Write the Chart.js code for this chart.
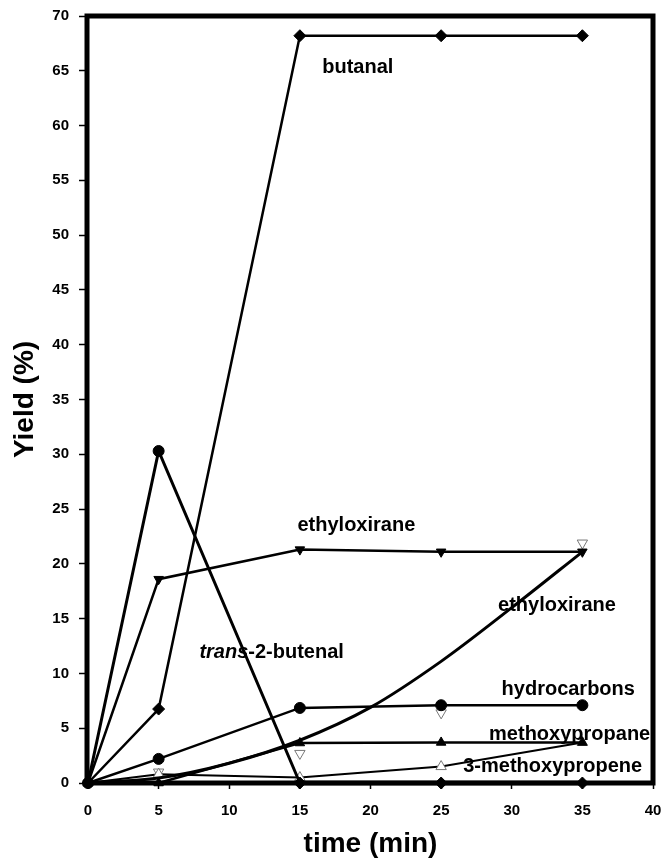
<!DOCTYPE html>
<html>
<head>
<meta charset="utf-8">
<script src="https://cdn.jsdelivr.net/npm/chart.js@4.4.1/dist/chart.umd.min.js"></script>
<style>
html,body{margin:0;padding:0;background:#fff;}
#wrap{width:664px;height:860px;}
</style>
</head>
<body>
<div id="wrap"><canvas id="c" width="664" height="860"></canvas></div>
<script>
// time points (min)
const times = [0, 5, 15, 25, 35];
const butanal = [0, 6.75, 68.2, 68.2, 68.2];
const butenal = [0, 30.3, 0, 0, 0];
const ethyloxiraneA = [0, 18.6, 21.3, 21.1, 21.1];
const ethyloxiraneBTimes = [5, 15, 25, 35];
const ethyloxiraneB = [1.0, 2.7, 6.4, 21.9];
const fitTimes = [0, 5, 10, 15, 20, 25, 30, 35];
const fitValues = [0, 0.45, 1.8, 3.9, 6.9, 11.1, 16.0, 21.1];
const hydrocarbons = [0, 2.2, 6.85, 7.1, 7.1];
const methoxypropane = [0, 0, 3.65, 3.7, 3.7];
const methoxypropene = [0, 0.8, 0.5, 1.5, 3.7];

const xTicks = [0, 5, 10, 15, 20, 25, 30, 35, 40];
const yTicks = [0, 5, 10, 15, 20, 25, 30, 35, 40, 45, 50, 55, 60, 65, 70];

// text labels: [text, x, y]
const labelTexts = ['butanal', 'ethyloxirane', 'ethyloxirane', 'hydrocarbons', 'methoxypropane', '3-methoxypropene'];
const labelX = [19.1, 19.0, 33.2, 34.0, 34.1, 32.9];
const labelY = [65.3, 23.5, 16.2, 8.5, 4.4, 1.55];
const butenalLabelPos = [13.0, 11.9];

const pts = (xs, ys) => xs.map((x, i) => ({x: x, y: ys[i]}));
const FONT = "'Liberation Sans', Arial, Helvetica, sans-serif";

const base = {
  borderColor: '#000', backgroundColor: '#000', pointBorderColor: '#000',
  pointBackgroundColor: '#000', borderWidth: 2.5, tension: 0, clip: false,
  pointBorderWidth: 1
};

const data = {
  datasets: [
    Object.assign({}, base, {label: 'butanal', data: pts(times, butanal), pointStyle: 'rectRot', pointRadius: 6}),
    Object.assign({}, base, {label: 'trans-2-butenal', data: pts(times, butenal),
      pointStyle: ['rectRot', 'circle', 'rectRot', 'rectRot', 'rectRot'],
      pointRadius: [6, 5.5, 6, 6, 6], borderWidth: 3,
      segment: {borderWidth: ctx => ctx.p0DataIndex >= 2 ? 4.5 : 3}}),
    Object.assign({}, base, {label: 'ethyloxirane', data: pts(times, ethyloxiraneA), pointStyle: 'triangle', rotation: 180, pointRadius: 5.5}),
    Object.assign({}, base, {label: 'ethyloxirane fit', data: pts(fitTimes, fitValues), pointRadius: 0, borderWidth: 3, cubicInterpolationMode: 'monotone'}),
    Object.assign({}, base, {label: 'hydrocarbons', data: pts(times, hydrocarbons), pointStyle: 'circle', pointRadius: 5.5}),
    Object.assign({}, base, {label: 'methoxypropane', data: pts(times, methoxypropane), pointStyle: 'triangle', pointRadius: 5.5}),
    Object.assign({}, base, {label: '3-methoxypropene', data: pts(times, methoxypropene), pointStyle: 'triangle', pointRadius: 6,
      pointBackgroundColor: '#fff', pointBorderColor: '#777', pointBorderWidth: 1, borderWidth: 2}),
    Object.assign({}, base, {label: 'ethyloxirane data', data: pts(ethyloxiraneBTimes, ethyloxiraneB), showLine: false, pointStyle: 'triangle', rotation: 180, pointRadius: 6,
      pointBackgroundColor: '#fff', pointBorderColor: '#777', pointBorderWidth: 1})
  ]
};

const annot = {
  id: 'annot',
  afterDatasetsDraw(chart) {
    const ctx = chart.ctx, a = chart.chartArea;
    const xs = chart.scales.x, ys = chart.scales.y;
    ctx.save();
    // frame
    ctx.strokeStyle = '#000';
    ctx.lineWidth = 5;
    ctx.strokeRect(a.left - 1, a.top, a.right - a.left + 1, a.bottom - a.top);
    // labels
    ctx.fillStyle = '#000';
    ctx.textBaseline = 'middle';
    ctx.textAlign = 'center';
    ctx.font = 'bold 20px ' + FONT;
    labelTexts.forEach((t, i) => {
      ctx.fillText(t, xs.getPixelForValue(labelX[i]), ys.getPixelForValue(labelY[i]));
    });
    // trans-2-butenal
    const px = xs.getPixelForValue(butenalLabelPos[0]), py = ys.getPixelForValue(butenalLabelPos[1]);
    ctx.textAlign = 'left';
    ctx.font = 'italic bold 20px ' + FONT;
    const w1 = ctx.measureText('trans').width;
    ctx.font = 'bold 20px ' + FONT;
    const w2 = ctx.measureText('-2-butenal').width;
    let sx = px - (w1 + w2) / 2;
    ctx.font = 'italic bold 20px ' + FONT;
    ctx.fillText('trans', sx, py);
    ctx.font = 'bold 20px ' + FONT;
    ctx.fillText('-2-butenal', sx + w1, py);
    // axis titles
    ctx.textAlign = 'center';
    ctx.font = 'bold 28px ' + FONT;
    ctx.fillText('time (min)', (a.left + a.right) / 2, 844);
    ctx.translate(25, (a.top + a.bottom) / 2);
    ctx.rotate(-Math.PI / 2);
    ctx.fillText('Yield (%)', 0, 0);
    ctx.restore();
  }
};

new Chart(document.getElementById('c'), {
  type: 'line',
  data: data,
  plugins: [annot],
  options: {
    responsive: false,
    animation: false,
    layout: {padding: {top: 16, right: 11, left: 0, bottom: 0}},
    plugins: {legend: {display: false}, tooltip: {enabled: false}},
    scales: {
      x: {
        type: 'linear', min: 0, max: 40,
        afterFit: s => { s.height = 77; s.paddingRight = 0; s.paddingLeft = 0; },
        afterBuildTicks: s => { s.ticks = xTicks.map(v => ({value: v})); },
        border: {display: false},
        grid: {display: true, drawOnChartArea: false, drawTicks: true, tickLength: 6, color: '#000', tickWidth: 1.5},
        ticks: {color: '#000', font: {family: FONT, size: 15, weight: 'bold'}, padding: 13, maxRotation: 0}
      },
      y: {
        type: 'linear', min: 0, max: 70,
        afterFit: s => { s.width = 88; s.paddingTop = 0; s.paddingBottom = 0; },
        afterBuildTicks: s => { s.ticks = yTicks.map(v => ({value: v})); },
        border: {display: false},
        grid: {display: true, drawOnChartArea: false, drawTicks: true, tickLength: 9, color: '#000', tickWidth: 1.5},
        ticks: {color: '#000', font: {family: FONT, size: 15, weight: 'bold'}, padding: 10}
      }
    }
  }
});
</script>
</body>
</html>
